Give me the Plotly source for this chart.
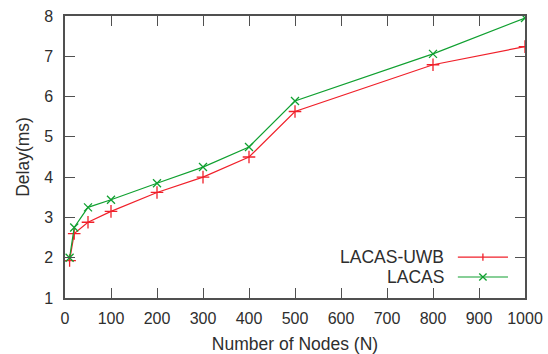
import plotly.graph_objects as go

nodes = [10, 20, 50, 100, 200, 300, 400, 500, 800, 1000]
delay_lacas_uwb = [1.93, 2.6, 2.88, 3.15, 3.62, 4.0, 4.5, 5.63, 6.79, 7.24]
delay_lacas = [2.0, 2.75, 3.25, 3.44, 3.85, 4.25, 4.75, 5.89, 7.06, 7.95]
series_names = ["LACAS-UWB", "LACAS"]
x_ticks = [0, 100, 200, 300, 400, 500, 600, 700, 800, 900, 1000]
y_ticks = [1, 2, 3, 4, 5, 6, 7, 8]

RED = "#f0202a"
GREEN = "#10a030"
AXIS = "#505050"
TEXT = "#2e2e2e"
FONT = "Liberation Sans, Arial, sans-serif"

fig = go.Figure()
fig.add_trace(go.Scatter(x=nodes, y=delay_lacas_uwb, mode="lines+markers", name=series_names[0],
                         line=dict(color=RED, width=1.2),
                         marker=dict(symbol="cross-thin", size=9, line=dict(color=RED, width=1.3))))
fig.add_trace(go.Scatter(x=nodes, y=delay_lacas, mode="lines+markers", name=series_names[1],
                         line=dict(color=GREEN, width=1.2),
                         marker=dict(symbol="x-thin", size=8, line=dict(color=GREEN, width=1.3))))

axis_common = dict(showgrid=False, zeroline=False, showline=True, linecolor=AXIS, linewidth=1.5,
                   mirror="ticks", ticks="inside", ticklen=10, tickcolor=AXIS, tickwidth=1.2,
                   ticklabeloverflow="allow",
                   tickfont=dict(family=FONT, size=16, color=TEXT))

fig.update_layout(
    width=548, height=354,
    margin=dict(l=65, r=23, t=16, b=56),
    paper_bgcolor="white", plot_bgcolor="white",
    showlegend=False,
    font=dict(family=FONT, color=TEXT),
    xaxis=dict(range=[0, 1000], tickvals=x_ticks, ticklabelstandoff=5,
               title=dict(text="Number of Nodes (N)", font=dict(family=FONT, size=17.5, color=TEXT), standoff=15),
               automargin=False, **axis_common),
    yaxis=dict(range=[1, 8], tickvals=y_ticks, ticklabelstandoff=7,
               title=dict(text="Delay(ms)", font=dict(family=FONT, size=17.5, color=TEXT), standoff=10),
               automargin=False, **axis_common),
)

# manual gnuplot-style legend (text left, sample right)
legend_rows = [(0.145, RED, "cross"), (0.0745, GREEN, "x")]
x0p, x1p = 0.854, 0.963
for (yp, col, sym), name in zip(legend_rows, series_names):
    fig.add_annotation(xref="paper", yref="paper", x=0.828, y=yp, text=name, showarrow=False,
                       xanchor="right", yanchor="middle",
                       font=dict(family=FONT, size=17.5, color=TEXT))
    fig.add_shape(type="line", xref="paper", yref="paper", x0=x0p, x1=x1p, y0=yp, y1=yp,
                  line=dict(color=col, width=1.2))
    xm = (x0p + x1p) / 2
    dx, dy = 0.008, 0.0125
    if sym == "cross":
        fig.add_shape(type="line", xref="paper", yref="paper", x0=xm, x1=xm, y0=yp - dy, y1=yp + dy,
                      line=dict(color=col, width=1.3))
    else:
        fig.add_shape(type="line", xref="paper", yref="paper", x0=xm - dx, x1=xm + dx, y0=yp - dy, y1=yp + dy,
                      line=dict(color=col, width=1.3))
        fig.add_shape(type="line", xref="paper", yref="paper", x0=xm - dx, x1=xm + dx, y0=yp + dy, y1=yp - dy,
                      line=dict(color=col, width=1.3))

# remove the default 8px page margin so the figure fills the 548x354 window exactly
fig.write_html("out.html", config={"displayModeBar": False},
               post_script="document.body.style.margin='0';document.body.style.overflow='hidden';")
